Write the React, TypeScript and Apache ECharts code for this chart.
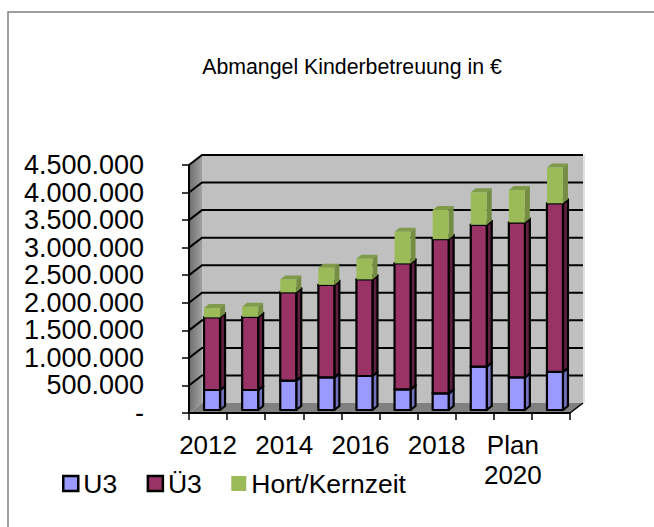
import React, { useEffect, useRef } from "react";
import * as echarts from "echarts";

const categories = ["2012", "2013", "2014", "2015", "2016", "2017", "2018", "2019", "Plan\n2020", "2021"];
const u3 = [363000, 363000, 532000, 593000, 617000, 375000, 302000, 786000, 593000, 690000];
const ue3 = [1317000, 1327000, 1603000, 1677000, 1753000, 2285000, 2798000, 2574000, 2807000, 3060000];
const hort = [170000, 185000, 235000, 310000, 375000, 575000, 530000, 590000, 590000, 650000];
const seriesNames = ["U3", "Ü3", "Hort/Kernzeit"];
const FONT = '"Liberation Sans", Arial, sans-serif';

const palette = [
  { front: "#9999FF", side: "#7272BF", top: "#8585DD", border: "#000000" },
  { front: "#993366", side: "#5F2040", top: "#7A2952", border: "#000000" },
  { front: "#9BBB59", side: "#758D43", top: "#7F9A49", border: null as string | null },
];

const DX = 13, DY = 10; // wall depth
const BX = 5, BY = 4; // bar depth
const BW = 16; // bar width
const OX = 4, OY = 3; // bar offset from the front of the floor

function segment(idx: number) {
  const p = palette[idx];
  return (params: any, api: any) => {
    const a = api.coord([api.value(0), api.value(1)]);
    const b = api.coord([api.value(0), api.value(2)]);
    const x0 = a[0] + OX - BW / 2, x1 = x0 + BW;
    const y0 = a[1] - OY, y1 = b[1] - OY;
    const bs = p.border ? { stroke: p.border, lineWidth: 2.2, lineJoin: "round" } : { stroke: null };
    return {
      type: "group",
      children: [
        { type: "polygon", shape: { points: [[x1, y0], [x1 + BX, y0 - BY], [x1 + BX, y1 - BY], [x1, y1]] }, style: { fill: p.side, ...bs } },
        { type: "polygon", shape: { points: [[x0, y1], [x1, y1], [x1 + BX, y1 - BY], [x0 + BX, y1 - BY]] }, style: { fill: p.top, ...bs } },
        { type: "rect", shape: { x: x0, y: y1, width: BW, height: y0 - y1 }, style: { fill: p.front, ...bs } },
      ],
    };
  };
}

function walls(params: any, api: any) {
  const size = api.size([1, 0])[0];
  const left = api.coord([0, 0])[0] - size / 2;
  const right = api.coord([categories.length - 1, 0])[0] + size / 2;
  const y0 = api.coord([0, 0])[1];
  const yTop = api.coord([0, 4500000])[1];
  const children: any[] = [
    { type: "rect", shape: { x: left + DX, y: yTop - DY, width: right - left, height: y0 - yTop }, style: { fill: "#C0C0C0" } },
    {
      type: "polygon",
      shape: { points: [[left, y0], [left + DX, y0 - DY], [left + DX, yTop - DY], [left, yTop]] },
      style: { fill: new echarts.graphic.LinearGradient(0, 0, 1, 0, [{ offset: 0, color: "#6E6E6E" }, { offset: 1, color: "#A0A0A0" }]) },
    },
    { type: "polygon", shape: { points: [[left, y0], [right, y0], [right + DX, y0 - DY], [left + DX, y0 - DY]] }, style: { fill: "#808080" } },
  ];
  for (let v = 500000; v <= 4500000; v += 500000) {
    const y = api.coord([0, v])[1];
    children.push({ type: "polyline", shape: { points: [[left, y], [left + DX, y - DY], [right + DX, y - DY]] }, style: { fill: null, stroke: "#000000", lineWidth: 2 } });
  }
  children.push({ type: "line", shape: { x1: right + DX + 1, y1: yTop - DY, x2: right + DX + 1, y2: y0 - DY }, style: { stroke: "#D9D9D9", lineWidth: 1.5 } });
  children.push({ type: "line", shape: { x1: right, y1: y0, x2: right + DX, y2: y0 - DY }, style: { stroke: "#000000", lineWidth: 1.5 } });
  return { type: "group", children };
}

export default function App() {
  const ref = useRef<HTMLDivElement>(null);
  useEffect(() => {
    const chart = echarts.init(ref.current!, undefined, { renderer: "svg" });
    const rows = categories.map((_, i) => {
      const a = u3[i], b = a + ue3[i], c = b + hort[i];
      return [[i, 0, a], [i, a, b], [i, b, c]];
    });
    chart.setOption({
      animation: false,
      backgroundColor: "#FFFFFF",
      textStyle: { fontFamily: FONT },
      title: {
        text: "Abmangel Kinderbetreuung in €",
        left: 347,
        top: 51,
        textAlign: "center",
        textStyle: { fontFamily: FONT, fontSize: 21.3, fontWeight: "normal", color: "#000000" },
      },
      graphic: [
        { type: "rect", silent: true, shape: { x: 8, y: 12, width: 800, height: 700 }, style: { fill: null, stroke: "#808080", lineWidth: 1.5 } },
      ],
      legend: {
        left: 57,
        top: 465,
        itemWidth: 15,
        itemHeight: 15,
        itemGap: 29.5,
        icon: "rect",
        selectedMode: false,
        textStyle: { fontFamily: FONT, fontSize: 26.5, color: "#000000" },
        data: seriesNames.map((name, i) => ({
          name,
          itemStyle: { color: palette[i].front, borderColor: palette[i].border ?? "transparent", borderWidth: palette[i].border ? 2.5 : 0 },
        })),
      },
      grid: { left: 189, right: 84, top: 165, bottom: 114 },
      xAxis: {
        type: "category",
        data: categories,
        boundaryGap: true,
        axisLine: { show: true, lineStyle: { color: "#000000", width: 2 } },
        axisTick: { show: true, length: 7, interval: 0, lineStyle: { color: "#000000", width: 1.5 } },
        axisLabel: { interval: 1, margin: 17, fontFamily: FONT, fontSize: 26, lineHeight: 30, color: "#000000", hideOverlap: false },
        z: 5,
      },
      yAxis: {
        type: "value",
        min: 0,
        max: 4500000,
        interval: 500000,
        splitLine: { show: false },
        axisLine: { show: true, lineStyle: { color: "#000000", width: 2 } },
        axisTick: { show: true, length: 7, lineStyle: { color: "#000000", width: 1.5 } },
        axisLabel: {
          margin: 45,
          fontFamily: FONT,
          fontSize: 27,
          color: "#000000",
          formatter: (v: number) => (v === 0 ? "-" : String(v).replace(/\B(?=(\d{3})+$)/g, ".")),
        },
        z: 5,
      },
      series: [
        { type: "custom", name: "walls", silent: true, clip: false, z: 1, data: [[0, 0]], renderItem: walls },
        ...seriesNames.map((name, i) => ({
          type: "custom",
          name,
          clip: false,
          z: 2 + i,
          itemStyle: { color: palette[i].front },
          encode: { x: 0, y: 2 },
          data: rows.map((r) => r[i]),
          renderItem: segment(i),
        })),
      ],
    });
    return () => chart.dispose();
  }, []);
  return <div ref={ref} style={{ position: "fixed", left: 0, top: 0, width: 654, height: 527 }} />;
}
